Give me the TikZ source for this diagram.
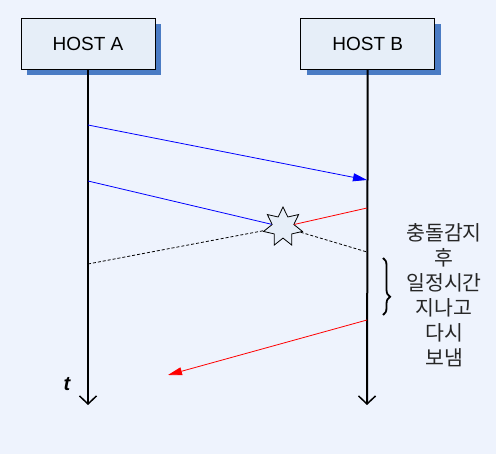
\documentclass[tikz,border=0pt]{standalone}
\usepackage{fontspec}
\setmainfont{Liberation Sans}
\newfontfamily\cjk{Noto Sans CJK KR}
\usepackage{tikz}
\usetikzlibrary{positioning,arrows.meta,shapes,shadows,decorations.pathreplacing}

\definecolor{bgcol}{HTML}{EEF3FD}
\definecolor{boxcol}{HTML}{E6EEF8}
\definecolor{shadowcol}{HTML}{4A7BC4}

\begin{document}
\begin{tikzpicture}[
			x=1pt, y=-1pt,
			host/.style={rectangle, draw, line width=0.8pt, fill=boxcol, minimum width=134pt, minimum height=51pt, font=\fontsize{19}{22}\selectfont,
				drop shadow={shadow xshift=6pt, shadow yshift=-6pt, fill=shadowcol, opacity=1}},
			life/.style={-{Straight Barb[length=8pt, width=17pt, line width=1.5pt]}, line width=2pt},
			frame/.style={->, >={Triangle[length=14pt, width=8pt]}, line width=0.8pt},
			crashstar/.style={star, star points=7, star point ratio=1.8, minimum size=40pt, inner sep=0pt, draw, line width=0.8pt, fill=boxcol}
		]

		\fill[bgcol] (0,0) rectangle (496,454);
		\useasboundingbox (0,0) rectangle (496,454);

		\node[host] (hostA) at (88,43.5) {HOST A};
		\node[host, right=145pt of hostA] (hostB) {HOST B};

		% lifelines
		\coordinate (endA) at (88,405);
		\coordinate (endB) at (367,405);
		\draw[life] (hostA) -- (endA);
		\draw[life] (hostB) -- (endB);
		\node[font=\fontsize{20}{22}\selectfont\bfseries\itshape] (tlabel) at (67,384) {t};

		% frames
		\coordinate (a1) at (88,125);
		\coordinate (b1) at (367,180);
		\coordinate (a2) at (88,181);
		\coordinate (b2) at (367,208);
		\coordinate (a3) at (88,264);
		\coordinate (b3) at (367,252);
		\coordinate (b4) at (367,320);
		\coordinate (a4) at (168,375);

		\node[crashstar] (crash) at (283,227) {};

		\draw[frame, blue] (a1) -- (b1);
		\draw[blue, line width=0.8pt] (a2) -- (crash);
		\draw[red, line width=0.8pt] (crash) -- (b2);
		\draw[dashed, dash pattern=on 3pt off 2pt, line width=0.8pt] (a3) -- (crash);
		\draw[dashed, dash pattern=on 3pt off 2pt, line width=0.8pt] (crash) -- (b3);
		\draw[frame, red] (b4) -- (a4);

		% wait
		\coordinate (brtop) at (383,258);
		\coordinate (brbot) at (383,315);
		\draw[line width=1.8pt, decorate, decoration={brace, amplitude=7pt, aspect=0.68}] (brtop) -- (brbot);

		\node[align=center, text=black!85, font=\cjk\fontsize{20.5}{25}\selectfont] (note) at (444,295) {
			충돌감지\\
			후\\
			일정시간\\
			지나고\\
			다시\\
			보냄
		};
	\end{tikzpicture}
\end{document}
